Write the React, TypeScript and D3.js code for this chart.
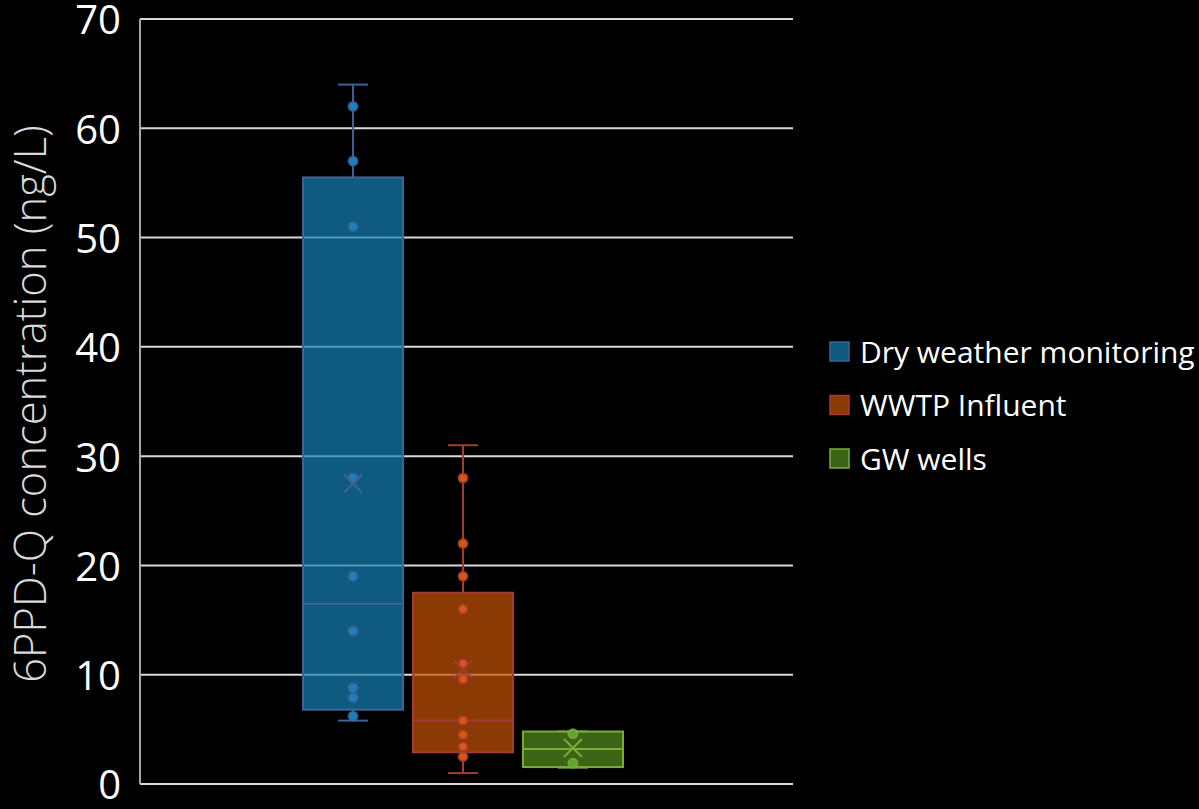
import React from "react";
import * as d3 from "d3";

// Box plot summary per group (ng/L)
const categories = ["Dry weather monitoring", "WWTP Influent", "GW wells"];
const whiskerLow = [5.8, 1.0, 1.5];
const quartile1 = [6.8, 2.9, 1.55];
const medians = [16.5, 5.8, 3.2];
const quartile3 = [55.5, 17.5, 4.8];
const whiskerHigh = [64, 31, 4.8];
const means = [27.5, 10.5, 3.3];
const dryPoints = [62, 57, 51, 28, 19, 14, 8.8, 7.9, 6.2];
const wwtpPoints = [28, 22, 19, 16, 11, 9.6, 5.8, 4.5, 3.4, 2.5];
const gwPoints = [4.6, 1.9];
const yTicks = [0, 10, 20, 30, 40, 50, 60, 70];

const pointSets = [dryPoints, wwtpPoints, gwPoints];
const fills = ["rgb(20,128,184)", "rgb(200,83,6)", "rgb(86,143,29)"];
const borders = ["#3d6493", "#a53b35", "#79ab3e"];
const dotFills = ["#1b7fc0", "#d9570f", "#5fa530"];

const W = 1199;
const H = 809;
const left = 140;
const right = 793;
const top = 19;
const bottom = 784;

export default function App() {
  const y = d3.scaleLinear().domain([0, 70]).range([bottom, top]);
  const x = d3
    .scaleBand<string>()
    .domain(categories)
    .range([303, 623])
    .paddingInner(0.09)
    .paddingOuter(0);
  const font = "'Open Sans', 'Noto Sans', sans-serif";
  const capHalf = 15;

  return (
    <svg
      width={W}
      height={H}
      style={{ position: "absolute", left: 0, top: 0, background: "#000" }}
    >
      <rect x={0} y={0} width={W} height={H} fill="#000" />
      {/* gridlines */}
      {yTicks.map((t) => (
        <line
          key={t}
          x1={left}
          x2={right}
          y1={y(t)}
          y2={y(t)}
          stroke="#d9d9d9"
          strokeWidth={2}
        />
      ))}
      <line x1={left} x2={left} y1={top} y2={bottom} stroke="#a6a6a6" strokeWidth={2} />
      {/* tick labels */}
      {yTicks.map((t) => (
        <text
          key={t}
          x={121}
          y={y(t) + 1}
          dy="0.36em"
          textAnchor="end"
          fill="#fff"
          fontSize={40}
          fontFamily={font}
        >
          {t}
        </text>
      ))}
      <text
        transform={`translate(46,${404}) rotate(-90)`}
        textAnchor="middle"
        fill="#d9d9d9"
        fontSize={43.5}
        fontWeight={300}
        fontFamily={font}
      >
        6PPD-Q concentration (ng/L)
      </text>

      {categories.map((c, i) => {
        const bw = x.bandwidth();
        const x0 = x(c)!;
        const cx = x0 + bw / 2;
        const m = 9;
        return (
          <g key={c}>
            {/* whiskers */}
            <line x1={cx} x2={cx} y1={y(whiskerHigh[i])} y2={y(quartile3[i])} stroke={borders[i]} strokeWidth={2} />
            <line x1={cx} x2={cx} y1={y(quartile1[i])} y2={y(whiskerLow[i])} stroke={borders[i]} strokeWidth={2} />
            <line x1={cx - capHalf} x2={cx + capHalf} y1={y(whiskerHigh[i])} y2={y(whiskerHigh[i])} stroke={borders[i]} strokeWidth={2} />
            <line x1={cx - capHalf} x2={cx + capHalf} y1={y(whiskerLow[i])} y2={y(whiskerLow[i])} stroke={borders[i]} strokeWidth={2} />
            {/* box */}
            <rect
              x={x0}
              y={y(quartile3[i])}
              width={bw}
              height={y(quartile1[i]) - y(quartile3[i])}
              fill={fills[i]}
              fillOpacity={0.7}
              stroke={borders[i]}
              strokeWidth={2}
            />
            <line x1={x0} x2={x0 + bw} y1={y(medians[i])} y2={y(medians[i])} stroke={borders[i]} strokeWidth={2} />
            {/* data points */}
            {pointSets[i].map((v, k) => (
              <circle
                key={k}
                cx={cx}
                cy={y(v)}
                r={4.5}
                fill={dotFills[i]}
                stroke={borders[i]}
                strokeOpacity={0.8}
                strokeWidth={2}
              />
            ))}
            {/* mean marker */}
            <path
              d={`M${cx - m},${y(means[i]) - m}L${cx + m},${y(means[i]) + m}M${cx + m},${y(means[i]) - m}L${cx - m},${y(means[i]) + m}`}
              stroke={borders[i]}
              strokeWidth={2}
              fill="none"
            />
          </g>
        );
      })}

      {/* legend */}
      {categories.map((c, i) => (
        <g key={c} transform={`translate(830,${352 + i * 53.5})`}>
          <rect x={0} y={-10} width={19} height={19} fill={fills[i]} fillOpacity={0.7} stroke={borders[i]} strokeWidth={1.5} />
          <text x={30} y={0} dy="0.36em" fill="#fff" fontSize={30} fontFamily={font}>
            {c}
          </text>
        </g>
      ))}
    </svg>
  );
}
